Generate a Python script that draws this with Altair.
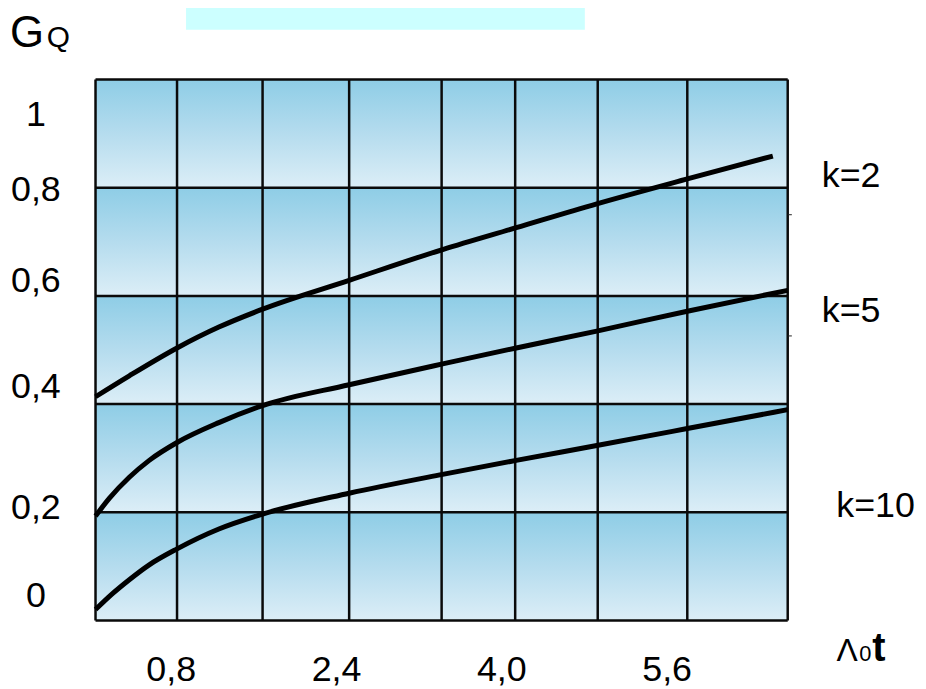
import altair as alt
import pandas as pd

FONT = "Liberation Sans"

# ---- data -------------------------------------------------------------
x_domain = [0, 6.7]
x_ticks = [0.8, 2.4, 4.0, 5.6]
x_tick_text = ["0,8", "2,4", "4,0", "5,6"]
v_grid = [0, 0.789, 1.617, 2.455, 3.350, 4.062, 4.861, 5.728, 6.7]
h_grid = [0, 0.2, 0.4, 0.6, 0.8, 1.0]
band_lo = [0, 0.2, 0.4, 0.6, 0.8]
band_hi = [0.2, 0.4, 0.6, 0.8, 1.0]

k2_x = [0, 0.327, 0.789, 1.194, 1.617, 2.455, 3.36, 4.072, 4.852, 5.728, 6.556]
k2_y = [0.4136, 0.4522, 0.5037, 0.5423, 0.5754, 0.6287, 0.6857, 0.7261, 0.7702, 0.8162, 0.8585]

k5_x = [0, 0.135, 0.327, 0.52, 0.789, 1.194, 1.617, 2.455, 3.36, 4.072, 4.852, 5.728, 6.7]
k5_y = [0.1930, 0.2261, 0.2647, 0.2960, 0.3290, 0.3658, 0.3971, 0.4357, 0.4743, 0.5037, 0.5349, 0.5717, 0.6103]

k10_x = [0, 0.164, 0.327, 0.52, 0.789, 1.194, 1.617, 2.455, 3.36, 4.072, 4.852, 5.728, 6.7]
k10_y = [0.0202, 0.0496, 0.0754, 0.1029, 0.1324, 0.1691, 0.1967, 0.2353, 0.2702, 0.2960, 0.3235, 0.3548, 0.3897]

y_label_text = ["1", "0,8", "0,6", "0,4", "0,2", "0"]
y_label_pos = [0.9136, 0.7757, 0.6066, 0.4118, 0.1875, 0.0257]

series_names = ["k=2", "k=5", "k=10"]
series_label_x = [7.03, 7.03, 7.17]
series_label_y = [0.8015, 0.5515, 0.191]

side_ticks_y = [0.75, 0.526]

# ---- tables -----------------------------------------------------------
curves = pd.concat([
    pd.DataFrame({"x": k2_x, "y": k2_y, "k": "k=2"}),
    pd.DataFrame({"x": k5_x, "y": k5_y, "k": "k=5"}),
    pd.DataFrame({"x": k10_x, "y": k10_y, "k": "k=10"}),
], ignore_index=True)

bands = pd.DataFrame({"lo": band_lo, "hi": band_hi, "x0": x_domain[0], "x1": x_domain[1]})
vg = pd.DataFrame({"x": v_grid})
hg = pd.DataFrame({"y": h_grid, "x0": x_domain[0], "x1": x_domain[1]})
ylab = pd.DataFrame({"t": y_label_text, "y": y_label_pos})
xlab = pd.DataFrame({"t": x_tick_text, "x": x_ticks})
klab = pd.DataFrame({"t": series_names, "x": series_label_x, "y": series_label_y})
sticks = pd.DataFrame({"y": side_ticks_y, "x0": x_domain[1], "x1": x_domain[1] + 0.04})

xscale = alt.Scale(domain=x_domain, nice=False, zero=False)
yscale = alt.Scale(domain=[0, 1], nice=False, zero=False)

grad = alt.LinearGradient(
    gradient="linear",
    stops=[alt.GradientStop(color="#8ECDE6", offset=0),
           alt.GradientStop(color="#B5DCEE", offset=0.5),
           alt.GradientStop(color="#DCEEF7", offset=1)],
    x1=0, x2=0, y1=0, y2=1,
)

X = lambda f: alt.X(f, scale=xscale, axis=None)
Y = lambda f: alt.Y(f, scale=yscale, axis=None)

bg = alt.Chart(bands).mark_rect(color=grad).encode(
    x=X("x0:Q"), x2="x1:Q", y=Y("lo:Q"), y2="hi:Q",
)

vrules = alt.Chart(vg).mark_rule(color="#0a0a0a", strokeWidth=2.5).encode(
    x=X("x:Q"), y=alt.value(0), y2=alt.value(544),
)

hrules = alt.Chart(hg).mark_rule(color="#0a0a0a", strokeWidth=2.5).encode(
    x=X("x0:Q"), x2="x1:Q", y=Y("y:Q"),
)

ticks_r = alt.Chart(sticks).mark_rule(color="#222", strokeWidth=1).encode(
    x=X("x0:Q"), x2="x1:Q", y=Y("y:Q"),
)

lines = alt.Chart(curves).mark_line(
    color="black", strokeWidth=5, interpolate="monotone", strokeCap="butt"
).encode(
    x=X("x:Q"), y=Y("y:Q"), detail="k:N",
)

ylabels = alt.Chart(ylab).mark_text(
    font=FONT, fontSize=36, align="center", baseline="alphabetic", color="black"
).encode(
    x=alt.value(-60), y=Y("y:Q"), text="t:N",
)

xlabels = alt.Chart(xlab).mark_text(
    font=FONT, fontSize=36, align="center", baseline="alphabetic", color="black", dx=-7
).encode(
    x=X("x:Q"), y=alt.value(605), text="t:N",
)

klabels = alt.Chart(klab).mark_text(
    font=FONT, fontSize=36, align="left", baseline="alphabetic", color="black"
).encode(
    x=X("x:Q"), y=Y("y:Q"), text="t:N",
)

one = pd.DataFrame({"a": [0]})

cyan_box = alt.Chart(one).mark_rect(color="#CCFFFF").encode(
    x=alt.value(91), x2=alt.value(492), y=alt.value(-80), y2=alt.value(-50)
)

def label(txt, x, y, size, weight="normal", align="left"):
    return alt.Chart(one).mark_text(
        text=txt, font=FONT, fontSize=size, fontWeight=weight,
        align=align, baseline="alphabetic", color="black"
    ).encode(x=alt.value(x), y=alt.value(y))

g_lab = label("G", -86, -33, 44)
q_lab = label("Q", -49, -33, 30)
lam_lab = label("Λ", 745, 585, 32)
zero_lab = label("0", 768, 585, 22)
t_lab = label("t", 781, 585, 40, weight="bold")

chart = alt.layer(
    cyan_box, bg, vrules, hrules, ticks_r, lines, ylabels, xlabels, klabels,
    g_lab, q_lab, lam_lab, zero_lab, t_lab,
).properties(
    width=696, height=544,
    autosize=alt.AutoSizeParams(type="none"),
    padding={"left": 88, "top": 70, "right": 131, "bottom": 66},
).configure_view(stroke=None)

chart.save("out.html", embed_options={"renderer": "svg", "actions": False})
